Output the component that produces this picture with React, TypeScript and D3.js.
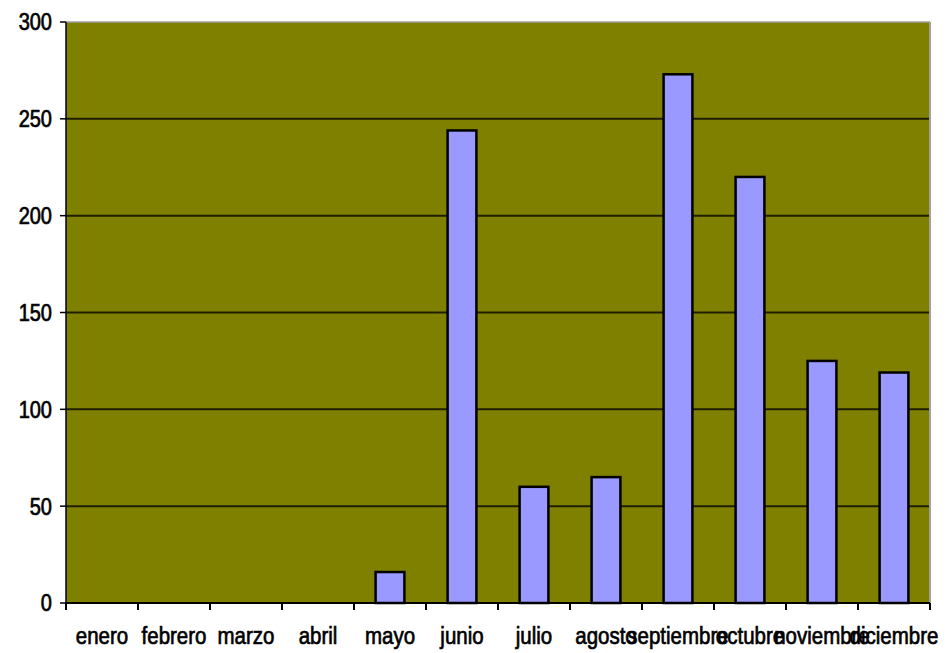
import React from "react";
import * as d3 from "d3";

const months = ["enero", "febrero", "marzo", "abril", "mayo", "junio", "julio", "agosto", "septiembre", "octubre", "noviembre", "diciembre"];
const values = [0, 0, 0, 0, 16, 244, 60, 65, 273, 220, 125, 119];
const yTicks = [0, 50, 100, 150, 200, 250, 300];

export default function App() {
  const W = 948, H = 653;
  const left = 66, right = 930, top = 22, bottom = 603;
  const x = d3.scaleBand<string>().domain(months).range([left, right]).padding(0);
  const y = d3.scaleLinear().domain([0, 300]).range([bottom, top]);
  const bw = x.bandwidth() * 0.4;
  const font = "'Liberation Sans', Arial, sans-serif";
  return (
    <svg width={W} height={H} style={{ position: "absolute", left: 0, top: 0, background: "#fff" }}>
      <rect x={left} y={top} width={right - left} height={bottom - top} fill="#808000" />
      {yTicks.filter(t => t > 0 && t < 300).map(t => (
        <line key={t} x1={left} x2={right} y1={y(t)} y2={y(t)} stroke="#1e1e00" strokeWidth={2} />
      ))}
      <line x1={left} x2={right} y1={top} y2={top} stroke="#a0a0a0" strokeWidth={1.5} />
      <line x1={right} x2={right} y1={top} y2={bottom} stroke="#a0a0a0" strokeWidth={2} />
      {months.map((m, i) => values[i] > 0 ? (
        <rect key={m} x={(x(m) as number) + (x.bandwidth() - bw) / 2} y={y(values[i])} width={bw} height={bottom - y(values[i])}
          fill="#9999ff" stroke="#000" strokeWidth={2.5} />
      ) : null)}
      <line x1={left} x2={left} y1={top} y2={bottom + 1} stroke="#000" strokeWidth={1.5} />
      <line x1={left - 1} x2={right} y1={bottom} y2={bottom} stroke="#000" strokeWidth={2} />
      {yTicks.map(t => (
        <g key={t}>
          <line x1={left - 6} x2={left} y1={y(t)} y2={y(t)} stroke="#000" strokeWidth={1.5} />
          <text x={52} y={y(t)} transform={`translate(0 ${y(t)}) scale(1 1.2) translate(0 ${-y(t)})`} dy="0.35em" textAnchor="end"
            fontFamily={font} fontSize={20} fill="#000" stroke="#000" strokeWidth={0.6}>{t}</text>
        </g>
      ))}
      {months.map((m, i) => (
        <g key={m}>
          <line x1={(x(m) as number)} x2={(x(m) as number)} y1={bottom} y2={bottom + 7} stroke="#000" strokeWidth={2} />
          <text x={(x(m) as number) + x.bandwidth() / 2} y={644} transform={`translate(0 644) scale(1 1.2) translate(0 -644)`} textAnchor="middle"
            fontFamily={font} fontSize={20.5} fill="#000" stroke="#000" strokeWidth={0.6}>{m}</text>
        </g>
      ))}
      <line x1={right} x2={right} y1={bottom} y2={bottom + 7} stroke="#000" strokeWidth={2} />
    </svg>
  );
}
